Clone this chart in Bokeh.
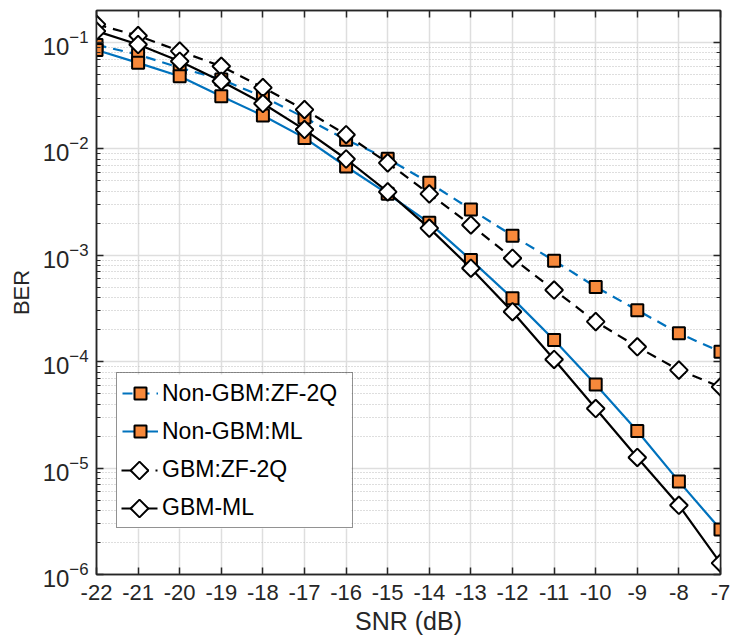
import numpy as np
from bokeh.plotting import figure
from bokeh.models import (Range1d, FixedTicker, LinearAxis, LogAxis, LogTicker,
                          Legend, LegendItem, CustomJSTickFormatter)
from bokeh.embed import file_html
from bokeh.resources import INLINE

# ---- data ----
snr = [-22, -21, -20, -19, -18, -17, -16, -15, -14, -13, -12, -11, -10, -9, -8, -7]
x_ticks = [-22, -21, -20, -19, -18, -17, -16, -15, -14, -13, -12, -11, -10, -9, -8, -7]

ber_nongbm_zf2q = [0.095, 0.077, 0.058, 0.045, 0.031, 0.0197, 0.0122, 0.0081, 0.0048,
                   0.0027, 0.00153, 8.9e-4, 5.05e-4, 3.05e-4, 1.85e-4, 1.24e-4]
ber_nongbm_ml = [0.085, 0.0644, 0.0482, 0.0312, 0.0206, 0.0127, 0.00684, 0.00378, 0.00202,
                 9.06e-4, 3.94e-4, 1.6e-4, 6.1e-5, 2.23e-5, 7.5e-6, 2.65e-6]
ber_gbm_zf2q = [0.148, 0.116, 0.083, 0.0598, 0.0377, 0.0234, 0.0136, 0.0074, 0.00378,
                0.00193, 9.4e-4, 4.72e-4, 2.38e-4, 1.38e-4, 8.34e-5, 5.8e-5]
ber_gbm_ml = [0.128, 0.0958, 0.0667, 0.0433, 0.0267, 0.0152, 0.00804, 0.00395, 0.0018,
              7.57e-4, 2.95e-4, 1.05e-4, 3.63e-5, 1.26e-5, 4.47e-6, 1.28e-6]

labels = ["Non-GBM:ZF-2Q", "Non-GBM:ML", "GBM:ZF-2Q", "GBM-ML"]

BLUE = "#0072BD"
ORANGE = "#F7893B"
DARK = "#262626"
FONT = "Liberation Sans"

X0, X1 = -22, -7
Y0, Y1 = 1e-6, 0.2
FW, FH = 624, 564

p = figure(frame_width=FW, frame_height=FH, y_axis_type="log",
           x_range=Range1d(X0, X1), y_range=Range1d(Y0, Y1),
           output_backend="svg", toolbar_location=None,
           min_border_left=96, min_border_right=10, min_border_top=10, min_border_bottom=65)
p.background_fill_color = "white"
p.border_fill_color = "white"
p.outline_line_color = DARK
p.outline_line_width = 1.5

# grids
p.xgrid.grid_line_color = "#DEDEDE"
p.xgrid.grid_line_width = 1.5
p.ygrid.grid_line_color = "#DEDEDE"
p.ygrid.grid_line_width = 1.5
p.ygrid.minor_grid_line_color = "#BDBDBD"
p.ygrid.minor_grid_line_dash = "1 2"
p.ygrid.minor_grid_line_width = 1

# axes
p.xaxis.ticker = FixedTicker(ticks=x_ticks)
p.xaxis.formatter = CustomJSTickFormatter(code="return tick.toString()")
for ax in (p.xaxis[0], p.yaxis[0]):
    ax.major_tick_in = 7
    ax.major_tick_out = 0
    ax.minor_tick_in = 4
    ax.minor_tick_out = 0
    ax.axis_line_color = DARK
    ax.axis_line_width = 1.5
    ax.major_tick_line_color = DARK
    ax.major_tick_line_width = 1.5
    ax.minor_tick_line_color = DARK
    ax.major_label_text_font = FONT
    ax.major_label_text_color = DARK
    ax.axis_label_text_font = FONT
    ax.axis_label_text_font_style = "normal"
    ax.axis_label_text_color = DARK
p.xaxis.major_label_text_font_size = "22px"
p.yaxis.major_label_text_font_size = "24px"
p.xaxis.axis_label_text_font_size = "25px"
p.yaxis.axis_label_text_font_size = "22px"
p.xaxis.minor_tick_line_color = None
p.xaxis.major_label_standoff = 10
p.xaxis.axis_label_standoff = 4
p.yaxis.major_label_standoff = 8
p.yaxis.axis_label_standoff = 6
p.xaxis.axis_label = "SNR (dB)"
p.yaxis.axis_label = "BER"

blank = CustomJSTickFormatter(code="return ''")
top = LinearAxis(ticker=FixedTicker(ticks=x_ticks), formatter=blank,
                 major_tick_in=7, major_tick_out=0, minor_tick_line_color=None,
                 axis_line_color=DARK, axis_line_width=1.5, major_tick_line_color=DARK,
                 major_tick_line_width=1.5, major_label_text_font_size="0px",
                 major_label_standoff=0)
p.add_layout(top, "above")
right = LogAxis(ticker=LogTicker(), formatter=blank,
                major_tick_in=7, major_tick_out=0, minor_tick_in=4, minor_tick_out=0,
                axis_line_color=DARK, axis_line_width=1.5, major_tick_line_color=DARK,
                major_tick_line_width=1.5, minor_tick_line_color=DARK,
                major_label_text_font_size="0px", major_label_standoff=0)
p.add_layout(right, "right")

# series
DASH = "10 7"
l1 = p.line(snr, ber_nongbm_zf2q, line_color=BLUE, line_width=2.2, line_dash=DASH)
s1 = p.scatter(snr, ber_nongbm_zf2q, marker="square", size=12, fill_color=ORANGE,
               line_color="black", line_width=2)
l2 = p.line(snr, ber_nongbm_ml, line_color=BLUE, line_width=2.2)
s2 = p.scatter(snr, ber_nongbm_ml, marker="square", size=12, fill_color=ORANGE,
               line_color="black", line_width=2)
l3 = p.line(snr, ber_gbm_zf2q, line_color="black", line_width=2.2, line_dash=DASH)
s3 = p.scatter(snr, ber_gbm_zf2q, marker="square", size=12.5, angle=np.pi / 4,
               fill_color="white", line_color="black", line_width=2)
l4 = p.line(snr, ber_gbm_ml, line_color="black", line_width=2.2)
s4 = p.scatter(snr, ber_gbm_ml, marker="square", size=12.5, angle=np.pi / 4,
               fill_color="white", line_color="black", line_width=2)

# ---- legend ----
# geometry in screen px, relative to the frame's bottom-left
LEG_X, LEG_Y = 20, 46
PAD, GW, GH, SP, STAND, LW = 5, 36, 30, 8, 4, 185
n_items = 4
leg_w = 2 * PAD + GW + STAND + LW
leg_h = 2 * PAD + n_items * GH + (n_items - 1) * SP

px_per_x = FW / (X1 - X0)
px_per_dec = FH / (np.log10(Y1) - np.log10(Y0))
def to_x(px):
    return X0 + px / px_per_x
def to_y(py):
    return 10 ** (np.log10(Y0) + py / px_per_dec)

# white legend background (hides the grid under the transparent legend box)
p.quad(left=[to_x(LEG_X)], right=[to_x(LEG_X + leg_w)],
       bottom=[to_y(LEG_Y)], top=[to_y(LEG_Y + leg_h)],
       fill_color="white", line_color=None)

# keys for the two GBM entries: line piece + diamond
for i, dash in ((2, DASH), (3, "solid")):
    cy = to_y(LEG_Y + leg_h - PAD - GH / 2 - i * (GH + SP))
    p.segment(x0=[to_x(LEG_X + PAD)], x1=[to_x(LEG_X + PAD + GW)], y0=[cy], y1=[cy],
              line_color="black", line_width=2.2, line_dash=dash)
    p.scatter([to_x(LEG_X + PAD + GW / 2)], [cy], marker="square", size=12.5,
              angle=np.pi / 4, fill_color="white", line_color="black", line_width=2)

# invisible stand-ins so the GBM entries show only their labels
blank3 = p.line(x=[], y=[], line_alpha=0)
blank4 = p.line(x=[], y=[], line_alpha=0)

items = [LegendItem(label=labels[0], renderers=[l1, s1]),
         LegendItem(label=labels[1], renderers=[l2, s2]),
         LegendItem(label=labels[2], renderers=[blank3]),
         LegendItem(label=labels[3], renderers=[blank4])]
legend = Legend(items=items, location=(LEG_X, LEG_Y), glyph_width=GW, glyph_height=GH,
                label_height=GH, label_width=LW, spacing=SP, padding=PAD, margin=0,
                label_standoff=STAND, label_text_font=FONT, label_text_font_size="23px",
                label_text_color="black", border_line_color=DARK, border_line_width=1.5,
                background_fill_alpha=0.0)
p.add_layout(legend)

open("out.html", "w").write(file_html(p, INLINE))
